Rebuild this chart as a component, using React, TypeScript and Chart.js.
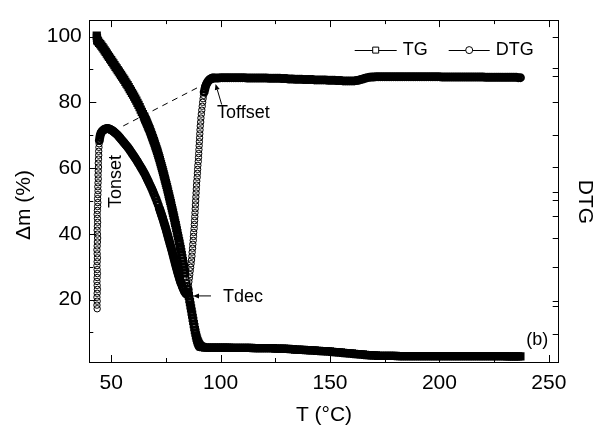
import React, { useEffect, useRef } from 'react';
import { Chart, registerables } from 'chart.js';

Chart.register(...registerables);

const FONT = '"Liberation Sans", Arial, Helvetica, sans-serif';

// ---- axis ticks ----
const xTickValues = [50, 100, 150, 200, 250];
const xMinorTickValues = [75, 125, 175, 225];
const yTickValues = [20, 40, 60, 80, 100];
const yMinorTickValues = [10, 30, 50, 70, 90];
const dtgAxisTickValues = [100, 90.4, 88, 80.1, 70.2, 60.2, 52.7, 50.3, 45.5, 38.6, 29.8, 19.6, 18.1, 9.6];

// ---- TG series (T in °C, Δm in %) ----
const tgDecline: [number, number][] = [
  [43.4, 100.3], [43.5, 99.6], [43.6, 99.0], [43.8, 98.7], [44.0, 98.5], [44.5, 98.1], [45.0, 97.7], [45.5, 97.2],
  [46.0, 96.8], [46.5, 96.3], [47.0, 95.8], [47.5, 95.3], [48.0, 94.8], [48.5, 94.3], [49.0, 93.8], [49.5, 93.3],
  [50.0, 92.8], [50.5, 92.3], [51.0, 91.8], [51.5, 91.3], [52.0, 90.8], [52.5, 90.3], [53.0, 89.8], [53.5, 89.3],
  [54.0, 88.8], [54.5, 88.3], [55.0, 87.8], [55.5, 87.3], [56.0, 86.8], [56.5, 86.2], [57.0, 85.7], [57.5, 85.2],
  [58.0, 84.6], [58.5, 84.0], [59.0, 83.5], [59.5, 82.9], [60.0, 82.3], [60.5, 81.7], [61.0, 81.1], [61.5, 80.5],
  [62.0, 79.8], [62.5, 79.2], [63.0, 78.5], [63.5, 77.8], [64.0, 77.1], [64.5, 76.4], [65.0, 75.7], [65.25, 75.3],
  [65.5, 74.9], [65.75, 74.6], [66.0, 74.2], [66.25, 73.8], [66.5, 73.4], [66.75, 73.0], [67.0, 72.6], [67.25, 72.2],
  [67.5, 71.8], [67.75, 71.35], [68.0, 70.9], [68.25, 70.45], [68.5, 70.0], [68.75, 69.55], [69.0, 69.1], [69.25, 68.65],
  [69.5, 68.2], [69.75, 67.7], [70.0, 67.2], [70.25, 66.7], [70.5, 66.2], [70.75, 65.7], [71.0, 65.2], [71.25, 64.65],
  [71.5, 64.1], [71.75, 63.55], [72.0, 63.0], [72.25, 62.4], [72.5, 61.8], [72.75, 61.2], [73.0, 60.6], [73.25, 60.0],
  [73.5, 59.4], [73.75, 58.75], [74.0, 58.1], [74.25, 57.45], [74.5, 56.8], [74.75, 56.15], [75.0, 55.5], [75.25, 54.85],
  [75.5, 54.2], [75.75, 53.5], [76.0, 52.8], [76.25, 52.1], [76.5, 51.4], [76.75, 50.7],
  [77.0, 50.0], [77.25, 49.3], [77.5, 48.6], [77.75, 47.8], [78.0, 47.1], [78.25, 46.4], [78.5, 45.6], [78.75, 44.9],
  [79.0, 44.1], [79.25, 43.3], [79.5, 42.6], [79.75, 41.8], [80.0, 41.0], [80.25, 40.2], [80.5, 39.4], [80.75, 38.6],
  [81.0, 37.8], [81.25, 37.0], [81.5, 36.1], [81.75, 35.3], [82.0, 34.4], [82.25, 33.5], [82.5, 32.6], [82.75, 31.7],
  [83.0, 30.8], [83.25, 29.9], [83.5, 28.9], [83.75, 28.0], [84.0, 27.0], [84.25, 26.0], [84.5, 25.0], [84.75, 24.0],
  [85.0, 23.0], [85.25, 22.0], [85.5, 21.1], [85.75, 20.1], [86.0, 19.2], [86.25, 18.2], [86.5, 17.3], [86.75, 16.3],
  [87.0, 15.4], [87.25, 14.4], [87.5, 13.5], [87.75, 12.5], [88.0, 11.6], [88.25, 10.7], [88.5, 9.9], [88.75, 9.1],
  [89.0, 8.4], [89.25, 7.8], [89.5, 7.3], [89.75, 6.9], [90.0, 6.5], [90.25, 6.2], [90.5, 6.0], [90.75, 5.8],
  [91.0, 5.7], [91.5, 5.6], [92.0, 5.5],
];

const tgPlateau: [number, number][] = [
  [93, 5.4], [94, 5.4], [95, 5.4], [96, 5.4], [97, 5.4], [98, 5.4], [99, 5.4], [100, 5.4], [101, 5.4], [102, 5.4],
  [103, 5.4], [104, 5.4], [105, 5.3], [106, 5.3], [107, 5.3], [108, 5.3], [109, 5.3], [110, 5.3], [111, 5.3], [112, 5.3],
  [113, 5.3], [114, 5.3], [115, 5.2], [116, 5.2], [117, 5.2], [118, 5.2], [119, 5.2], [120, 5.2], [121, 5.2], [122, 5.2],
  [123, 5.2], [124, 5.2], [125, 5.1], [126, 5.1], [127, 5.1], [128, 5.1], [129, 5.1], [130, 5.0], [131, 5.0], [132, 4.9],
  [133, 4.9], [134, 4.8], [135, 4.8], [136, 4.8], [137, 4.7], [138, 4.7], [139, 4.6], [140, 4.6], [141, 4.5], [142, 4.5],
  [143, 4.5], [144, 4.4], [145, 4.4], [146, 4.3], [147, 4.3], [148, 4.3], [149, 4.2], [150, 4.2], [151, 4.1], [152, 4.0],
  [153, 4.0], [154, 3.9], [155, 3.9], [156, 3.8], [157, 3.7], [158, 3.7], [159, 3.6], [160, 3.6], [161, 3.5], [162, 3.4],
  [163, 3.4], [164, 3.3], [165, 3.3], [166, 3.2], [167, 3.1], [168, 3.1], [169, 3.0], [170, 3.0], [171, 3.0], [172, 2.9],
  [173, 2.9], [174, 2.9], [175, 2.9], [176, 2.9], [177, 2.9], [178, 2.9], [179, 2.9], [180, 2.9], [181, 2.8], [182, 2.8],
  [183, 2.8], [184, 2.8], [185, 2.8], [186, 2.8], [187, 2.8], [188, 2.8], [189, 2.8], [190, 2.8], [191, 2.8], [192, 2.8],
  [193, 2.8], [194, 2.8], [195, 2.8], [196, 2.8], [197, 2.8], [198, 2.8], [199, 2.8], [200, 2.8], [201, 2.8], [202, 2.8],
  [203, 2.8], [204, 2.8], [205, 2.8], [206, 2.8], [207, 2.8], [208, 2.8], [209, 2.8], [210, 2.8], [211, 2.8], [212, 2.8],
  [213, 2.8], [214, 2.8], [215, 2.8], [216, 2.8], [217, 2.8], [218, 2.8], [219, 2.8], [220, 2.8], [221, 2.8], [222, 2.8],
  [223, 2.8], [224, 2.8], [225, 2.8], [226, 2.8], [227, 2.8], [228, 2.8], [229, 2.8], [230, 2.8], [231, 2.7], [232, 2.7],
  [233, 2.7], [234, 2.7], [235, 2.7], [236, 2.7], [237, 2.7],
];

// ---- DTG series ----
const dtgOnset: [number, number][] = [
  [43.6, 17.2], [43.5, 18.3], [43.6, 19.5], [43.5, 20.7], [43.6, 21.9], [43.7, 23.1], [43.6, 24.3], [43.5, 25.5],
  [43.6, 26.7], [43.7, 27.9], [43.6, 29.1], [43.5, 30.3], [43.6, 31.5], [43.7, 32.7], [43.6, 33.9], [43.5, 35.1],
  [43.6, 36.3], [43.7, 37.5], [43.8, 38.7], [43.7, 39.9], [43.6, 41.1], [43.7, 42.3], [43.8, 43.5], [43.7, 44.7],
  [43.6, 45.9], [43.7, 47.1], [43.8, 48.3], [43.9, 49.5], [43.8, 50.7], [43.9, 51.9], [44.0, 53.1], [43.9, 54.3],
  [44.0, 55.5], [44.1, 56.7], [44.0, 57.9], [44.1, 59.1], [44.2, 60.3], [44.1, 61.5], [44.2, 62.7], [44.3, 63.9],
  [44.3, 65.1], [44.4, 66.3], [44.5, 67.4], [44.6, 68.4], [44.8, 69.3], [45.0, 70.0], [45.3, 70.6], [45.6, 71.0],
  [46.0, 71.3], [46.5, 71.6], [47.0, 71.8], [47.5, 71.9], [48.0, 72.0], [48.5, 72.0],
];

const dtgDecline: [number, number][] = [
  [49.0, 71.9], [49.5, 71.8], [50.0, 71.6], [50.5, 71.4], [51.0, 71.2], [51.5, 70.9], [52.0, 70.6], [52.5, 70.3],
  [53.0, 70.0], [53.5, 69.6], [54.0, 69.2], [54.5, 68.8], [55.0, 68.4], [55.5, 68.0], [56.0, 67.6], [56.5, 67.2],
  [57.0, 66.8], [57.5, 66.4], [58.0, 66.0], [58.5, 65.5], [59.0, 65.0], [59.5, 64.5], [60.0, 64.0], [60.5, 63.5],
  [61.0, 63.0], [61.5, 62.5], [62.0, 62.0], [62.5, 61.4], [63.0, 60.9], [63.5, 60.3], [64.0, 59.8], [64.5, 59.2],
  [65.0, 58.6], [65.5, 58.0], [66.0, 57.3], [66.5, 56.6], [67.0, 55.9], [67.5, 55.2], [68.0, 54.5], [68.5, 53.8],
  [69.0, 53.0], [69.5, 52.2], [70.0, 51.4], [70.5, 50.6], [71.0, 49.7], [71.5, 48.8], [72.0, 47.8], [72.25, 47.3],
  [72.5, 46.8], [72.75, 46.3], [73.0, 45.8], [73.25, 45.3], [73.5, 44.8], [73.75, 44.25], [74.0, 43.7], [74.25, 43.15],
  [74.5, 42.6], [74.75, 42.05], [75.0, 41.5], [75.25, 40.9], [75.5, 40.3], [75.75, 39.7], [76.0, 39.1], [76.25, 38.5],
  [76.5, 37.9], [76.75, 37.3], [77.0, 36.7], [77.25, 36.1], [77.5, 35.5], [77.75, 34.9], [78.0, 34.3], [78.25, 33.65],
  [78.5, 33.0], [78.75, 32.35], [79.0, 31.7], [79.25, 31.05], [79.5, 30.4], [79.75, 29.8], [80.0, 29.2], [80.25, 28.6],
  [80.5, 28.0], [80.75, 27.45], [81.0, 26.9], [81.25, 26.35], [81.5, 25.8], [81.75, 25.3], [82.0, 24.8], [82.5, 23.9],
  [83.0, 23.1], [83.5, 22.4], [84.0, 21.9], [84.4, 21.7],
];

const dtgRise: [number, number][] = [
  [84.8, 22.3], [85.1, 23.2], [85.3, 24.3], [85.5, 25.4], [85.7, 26.5], [85.9, 27.6], [86.1, 28.7], [86.3, 29.8],
  [86.5, 30.9], [86.7, 32.0], [86.9, 33.2], [87.0, 34.4], [87.2, 35.6], [87.3, 36.8], [87.5, 38.0], [87.6, 39.2],
  [87.7, 40.4], [87.9, 41.6], [88.0, 42.8], [88.1, 44.0], [88.2, 45.2], [88.3, 46.4], [88.4, 47.6], [88.5, 48.8],
  [88.6, 50.0], [88.7, 51.2], [88.8, 52.4], [88.9, 53.6], [89.0, 54.8], [89.1, 56.0], [89.3, 57.2], [89.4, 58.4],
  [89.5, 59.6], [89.6, 60.8], [89.8, 62.0], [89.9, 63.2], [90.0, 64.4], [90.1, 65.6], [90.2, 66.8], [90.3, 68.0],
  [90.4, 69.2], [90.5, 70.4], [90.6, 71.6], [90.7, 72.8], [90.9, 74.0], [91.0, 75.2], [91.2, 76.4], [91.4, 77.6],
  [91.6, 78.8], [91.8, 80.0], [92.0, 81.1], [92.2, 82.1], [92.5, 83.1], [92.8, 84.0], [93.1, 84.8], [93.5, 85.5],
  [94.0, 86.1], [94.5, 86.6], [95.0, 86.9], [95.5, 87.1], [96.0, 87.3], [96.5, 87.4], [97.0, 87.4],
];

const dtgPlateau: [number, number][] = [
  [98, 87.4], [99, 87.4], [100, 87.5], [101, 87.5], [102, 87.5], [103, 87.5], [104, 87.5], [105, 87.5], [106, 87.5],
  [107, 87.5], [108, 87.5], [109, 87.5], [110, 87.5], [111, 87.5], [112, 87.4], [113, 87.4], [114, 87.4], [115, 87.4],
  [116, 87.4], [117, 87.4], [118, 87.4], [119, 87.4], [120, 87.4], [121, 87.4], [122, 87.3], [123, 87.3], [124, 87.3],
  [125, 87.3], [126, 87.3], [127, 87.3], [128, 87.2], [129, 87.2], [130, 87.2], [131, 87.1], [132, 87.1], [133, 87.1],
  [134, 87.0], [135, 87.0], [136, 87.0], [137, 87.0], [138, 86.9], [139, 86.9], [140, 86.9], [141, 86.9], [142, 86.9],
  [143, 86.8], [144, 86.8], [145, 86.8], [146, 86.8], [147, 86.8], [148, 86.8], [149, 86.7], [150, 86.7], [151, 86.7],
  [152, 86.7], [153, 86.6], [154, 86.6], [155, 86.6], [156, 86.5], [157, 86.5], [158, 86.5], [159, 86.5], [160, 86.5],
  [161, 86.5], [162, 86.6], [163, 86.7], [164, 86.9], [165, 87.1], [166, 87.3], [167, 87.5], [168, 87.6], [169, 87.7],
  [170, 87.7], [171, 87.8], [172, 87.8], [173, 87.8], [174, 87.8], [175, 87.8], [176, 87.8], [177, 87.8], [178, 87.8],
  [179, 87.8], [180, 87.8], [181, 87.8], [182, 87.8], [183, 87.8], [184, 87.8], [185, 87.8], [186, 87.8], [187, 87.8],
  [188, 87.8], [189, 87.8], [190, 87.8], [191, 87.8], [192, 87.8], [193, 87.8], [194, 87.8], [195, 87.8], [196, 87.8],
  [197, 87.8], [198, 87.8], [199, 87.8], [200, 87.8], [201, 87.7], [202, 87.7], [203, 87.7], [204, 87.7], [205, 87.7],
  [206, 87.7], [207, 87.7], [208, 87.7], [209, 87.7], [210, 87.7], [211, 87.7], [212, 87.7], [213, 87.7], [214, 87.7],
  [215, 87.7], [216, 87.7], [217, 87.7], [218, 87.7], [219, 87.7], [220, 87.7], [221, 87.6], [222, 87.6], [223, 87.6],
  [224, 87.6], [225, 87.6], [226, 87.6], [227, 87.6], [228, 87.6], [229, 87.6], [230, 87.6], [231, 87.6], [232, 87.6],
  [233, 87.6], [234, 87.6], [235, 87.6], [236, 87.5], [237, 87.5],
];

// ---- annotations (data coordinates) ----
const onsetTangent: [number, number][] = [[55.5, 72.8], [92.8, 85.6]];
const toffsetArrow: [number, number][] = [[100.5, 79.3], [97.7, 85.6]]; // tail, head
const tdecArrow: [number, number][] = [[95.6, 21.1], [87.4, 21.1]]; // tail, head
const toffsetLabel: [number, number] = [98.4, 76.8];
const tdecLabel: [number, number] = [101.1, 20.9];
const tonsetLabel: [number, number] = [52.3, 55.9];

const toXY = (pts: [number, number][]) => pts.map(([x, y]) => ({ x, y }));

// thicker outline where markers crowd together (dense symbols merge into a solid band)
const strokeByDensity = (c: any) => {
  const data = c.dataset?.data;
  const i = c.dataIndex;
  if (!data || !data[i]) return 1;
  const xs = c.chart.scales.x;
  const ys = c.chart.scales.y;
  const p = data[i];
  let best = Infinity;
  for (const j of [i - 1, i + 1]) {
    const q = data[j];
    if (!q) continue;
    const d = Math.hypot(
      xs.getPixelForValue(q.x) - xs.getPixelForValue(p.x),
      ys.getPixelForValue(q.y) - ys.getPixelForValue(p.y)
    );
    if (d < best) best = d;
  }
  return best < 3.2 ? 2.6 : 1;
};

const overlay = {
  id: 'overlay',
  afterDraw(chart: any) {
    const { ctx, chartArea: a, scales } = chart;
    const X = (v: number) => scales.x.getPixelForValue(v);
    const Y = (v: number) => scales.y.getPixelForValue(v);
    const Y2 = (v: number) => scales.y2.getPixelForValue(v);
    ctx.save();
    ctx.strokeStyle = '#000';
    ctx.fillStyle = '#000';
    ctx.lineWidth = 1;
    const line = (x1: number, y1: number, x2: number, y2: number) => {
      ctx.beginPath();
      ctx.moveTo(x1, y1);
      ctx.lineTo(x2, y2);
      ctx.stroke();
    };
    const px = (v: number) => Math.round(v) + 0.5;

    // inward tick marks
    xTickValues.forEach((v) => {
      const x = px(X(v));
      line(x, a.bottom, x, a.bottom - 7);
      line(x, a.top, x, a.top + 7);
    });
    xMinorTickValues.forEach((v) => {
      const x = px(X(v));
      line(x, a.bottom, x, a.bottom - 4);
      line(x, a.top, x, a.top + 4);
    });
    yTickValues.forEach((v) => {
      const y = px(Y(v));
      line(a.left, y, a.left + 7, y);
    });
    yMinorTickValues.forEach((v) => {
      const y = px(Y(v));
      line(a.left, y, a.left + 4, y);
    });
    dtgAxisTickValues.forEach((v) => {
      const y = px(Y2(v));
      line(a.right, y, a.right - 6, y);
    });

    // onset tangent (dashed)
    ctx.setLineDash([6, 5]);
    line(X(onsetTangent[0][0]), Y(onsetTangent[0][1]), X(onsetTangent[1][0]), Y(onsetTangent[1][1]));
    ctx.setLineDash([]);

    const arrow = (pts: [number, number][]) => {
      const x1 = X(pts[0][0]), y1 = Y(pts[0][1]);
      const x2 = X(pts[1][0]), y2 = Y(pts[1][1]);
      const ang = Math.atan2(y2 - y1, x2 - x1);
      const hl = 6, hw = 2.5;
      const bx = x2 - hl * Math.cos(ang), by = y2 - hl * Math.sin(ang);
      line(x1, y1, bx, by);
      ctx.beginPath();
      ctx.moveTo(x2, y2);
      ctx.lineTo(bx + hw * Math.sin(ang), by - hw * Math.cos(ang));
      ctx.lineTo(bx - hw * Math.sin(ang), by + hw * Math.cos(ang));
      ctx.closePath();
      ctx.fill();
    };
    arrow(toffsetArrow);
    arrow(tdecArrow);

    const text = (s: string, x: number, y: number, align: string, rot = 0, size = 18) => {
      ctx.save();
      ctx.translate(x, y);
      ctx.rotate(rot);
      ctx.font = `${size}px ${FONT}`;
      ctx.textAlign = align;
      ctx.textBaseline = 'middle';
      ctx.fillText(s, 0, 0);
      ctx.restore();
    };
    text('Toffset', X(toffsetLabel[0]), Y(toffsetLabel[1]), 'left');
    text('Tdec', X(tdecLabel[0]), Y(tdecLabel[1]), 'left');
    text('Tonset', X(tonsetLabel[0]), Y(tonsetLabel[1]), 'center', -Math.PI / 2);
    text('(b)', a.right - 10.5, a.bottom - 22, 'right');

    // axis titles
    text('T (°C)', (a.left + a.right) / 2, a.bottom + 53, 'center', 0, 21);
    text('Δm (%)', a.left - 65, 205, 'center', -Math.PI / 2, 21);
    text('DTG', a.right + 26, 202, 'center', Math.PI / 2, 21);

    // legend (line + symbol, Origin style)
    const ly = a.top + 30;
    const ds = chart.data.datasets;
    const drawEntry = (x1: number, x2: number, tx: number, label: string, style: string) => {
      line(x1, px(ly), x2, px(ly));
      const cx = (x1 + x2) / 2;
      ctx.beginPath();
      if (style === 'rect') ctx.rect(cx - 3, ly - 3, 6, 6);
      else ctx.arc(cx, ly, 3.5, 0, Math.PI * 2);
      ctx.fillStyle = '#fff';
      ctx.fill();
      ctx.stroke();
      ctx.fillStyle = '#000';
      text(label, tx, ly, 'left');
    };
    drawEntry(a.right - 204, a.right - 162, a.right - 156, ds[0].label, 'rect');
    drawEntry(a.right - 110, a.right - 69, a.right - 63, ds[1].label, 'circle');

    ctx.restore();
  },
};

export default function App() {
  const canvasRef = useRef<HTMLCanvasElement | null>(null);

  useEffect(() => {
    document.body.style.margin = '0';
    const canvas = canvasRef.current;
    if (!canvas) return;
    const axisBorder = { display: true, color: '#000', width: 1 };
    const chart = new Chart(canvas, {
      type: 'scatter',
      data: {
        datasets: [
          {
            label: 'TG',
            data: toXY([...tgDecline, ...tgPlateau]),
            pointStyle: 'rect',
            pointRadius: 4.0,
            pointBorderColor: '#000',
            pointBackgroundColor: 'rgba(255,255,255,0)',
            pointBorderWidth: strokeByDensity,
            showLine: false,
            order: 1,
          },
          {
            label: 'DTG',
            data: toXY([...dtgOnset, ...dtgDecline, ...dtgRise, ...dtgPlateau]),
            pointStyle: 'circle',
            pointRadius: 3.2,
            pointBorderColor: '#000',
            pointBackgroundColor: 'rgba(255,255,255,0)',
            pointBorderWidth: strokeByDensity,
            showLine: false,
            order: 0,
          },
        ],
      } as any,
      options: {
        animation: false,
        responsive: false,
        devicePixelRatio: 1,
        events: [],
        layout: { padding: 0, autoPadding: false },
        plugins: { legend: { display: false }, tooltip: { enabled: false } },
        scales: {
          x: {
            type: 'linear',
            position: 'bottom',
            min: 40,
            max: 254.5,
            grid: { display: false, drawTicks: false },
            border: axisBorder,
            ticks: { color: '#000', font: { family: FONT, size: 21 }, padding: 8.5, autoSkip: false, maxRotation: 0 },
            afterBuildTicks: (s: any) => { s.ticks = xTickValues.map((v) => ({ value: v })); },
            afterFit: (s: any) => { s.height = 65; },
          },
          x2: {
            type: 'linear',
            position: 'top',
            min: 40,
            max: 254.5,
            grid: { display: false, drawTicks: false },
            border: axisBorder,
            ticks: { display: false },
            afterFit: (s: any) => { s.height = 16; },
          },
          y: {
            type: 'linear',
            position: 'left',
            min: 1,
            max: 105,
            grid: { display: false, drawTicks: false },
            border: axisBorder,
            ticks: { color: '#000', font: { family: FONT, size: 21 }, padding: 7.5, autoSkip: false },
            afterBuildTicks: (s: any) => { s.ticks = yTickValues.map((v) => ({ value: v })); },
            afterFit: (s: any) => { s.width = 89.3; },
          },
          y2: {
            type: 'linear',
            position: 'right',
            min: 1,
            max: 105,
            grid: { display: false, drawTicks: false },
            border: axisBorder,
            ticks: { display: false },
            afterBuildTicks: (s: any) => { s.ticks = dtgAxisTickValues.map((v) => ({ value: v })); },
            afterFit: (s: any) => { s.width = 39.3; },
          },
        },
      } as any,
      plugins: [overlay],
    });
    return () => chart.destroy();
  }, []);

  return (
    <div style={{ position: 'fixed', left: 0, top: 0, width: 598, height: 427, background: '#fff' }}>
      <canvas ref={canvasRef} width={598} height={427} style={{ display: 'block' }} />
    </div>
  );
}
